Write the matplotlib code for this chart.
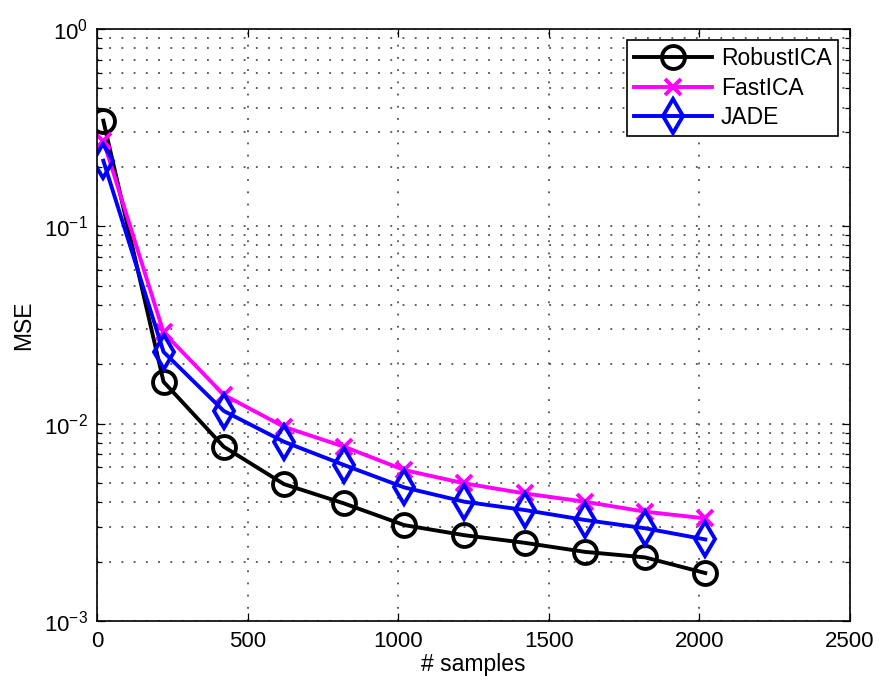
import matplotlib
matplotlib.use("Agg")
import matplotlib.pyplot as plt
from matplotlib.ticker import LogLocator, MultipleLocator, NullFormatter

plt.rcParams["font.family"] = ["Liberation Sans", "DejaVu Sans"]
plt.rcParams["mathtext.fontset"] = "custom"
plt.rcParams["mathtext.rm"] = "Liberation Sans"
plt.rcParams["mathtext.it"] = "Liberation Sans"
plt.rcParams["mathtext.default"] = "regular"

# Number of samples used in each trial
samples = [20, 220, 420, 620, 820, 1020, 1220, 1420, 1620, 1820, 2020]

# Mean squared error of each separation algorithm
mse_robustica = [0.343, 0.0163, 0.00764, 0.00494, 0.00394, 0.00306,
                 0.00272, 0.00249, 0.00224, 0.00210, 0.00175]
mse_fastica = [0.271, 0.0290, 0.0140, 0.00964, 0.00764, 0.00582,
               0.00498, 0.00443, 0.00402, 0.00358, 0.00331]
mse_jade = [0.215, 0.0231, 0.0116, 0.00810, 0.00617, 0.00475,
            0.00402, 0.00365, 0.00325, 0.00295, 0.00259]

labels = ["RobustICA", "FastICA", "JADE"]

fig = plt.figure(figsize=(8.8, 6.87), dpi=100)
ax = fig.add_axes([0.1106, 0.0961, 0.9656 - 0.1106, 0.9578 - 0.0961])

lw = 2.8
ax.plot(samples, mse_robustica, color="black", lw=lw, marker="o",
        markersize=16.5, markerfacecolor="none", markeredgewidth=2.8,
        label=labels[0])
ax.plot(samples, mse_fastica, color="#ff00ff", lw=lw, marker="x",
        markersize=12, markeredgewidth=2.8, label=labels[1])
ax.plot(samples, mse_jade, color="#0000ff", lw=lw, marker="d",
        markersize=17.5, markerfacecolor="none", markeredgewidth=2.8,
        label=labels[2])

ax.set_yscale("log")
ax.set_xlim(0, 2500)
ax.set_ylim(1e-3, 1)
ax.xaxis.set_major_locator(MultipleLocator(500))
ax.yaxis.set_major_locator(LogLocator(base=10, numticks=10))
ax.yaxis.set_minor_locator(LogLocator(base=10, subs=range(2, 10), numticks=20))
ax.yaxis.set_minor_formatter(NullFormatter())

grid_style = dict(color="#333333", linestyle=(0, (1.2, 6.8)), linewidth=1.1)
ax.grid(True, which="major", axis="both", **grid_style)
ax.grid(True, which="minor", axis="y", **grid_style)
ax.set_axisbelow(True)

ax.tick_params(which="both", direction="in", top=True, right=True,
               labelsize=16, width=0.9, pad=7)
ax.tick_params(which="major", length=6)
ax.tick_params(which="minor", length=3.5)
for sp in ax.spines.values():
    sp.set_linewidth(1.2)

ax.set_xlabel("# samples", fontsize=16.5, labelpad=1)
ax.set_ylabel("MSE", fontsize=16.5, labelpad=6)

leg = ax.legend(loc="upper right", fontsize=16.5, fancybox=False,
                edgecolor="black", framealpha=1, handlelength=3.4,
                handletextpad=0.4, labelspacing=0.28, borderpad=0.3,
                borderaxespad=0.5)
leg.get_frame().set_linewidth(1.2)

fig.savefig("out.png", dpi=100)
